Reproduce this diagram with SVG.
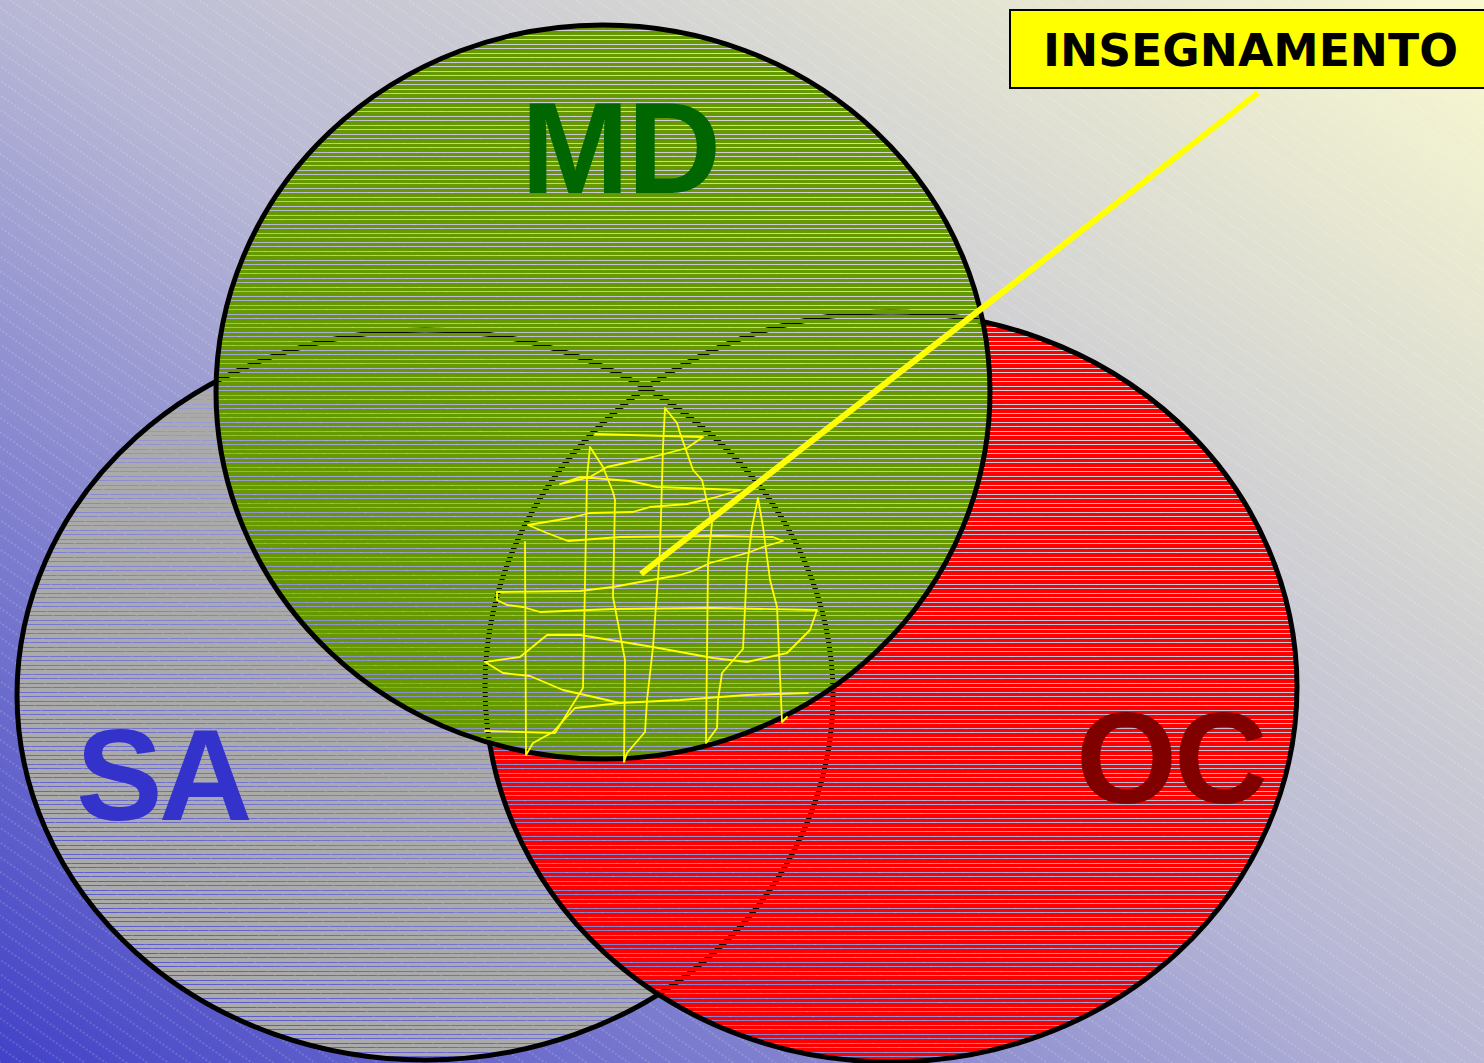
<svg xmlns="http://www.w3.org/2000/svg" width="1484" height="1063" viewBox="0 0 1484 1063">
<style>
.outline{stroke:#000;stroke-width:5}
.big{font-family:"Liberation Sans",Arial,sans-serif;font-weight:bold;font-size:130px}
.scr{fill:none;stroke:#ffff00;stroke-width:1.8;stroke-linejoin:round;stroke-linecap:round}
</style>
<defs>
<linearGradient id="bg" x1="0" y1="1" x2="1" y2="0">
<stop offset="0" stop-color="#4242c8"/>
<stop offset="0.5" stop-color="#b8b8d6"/>
<stop offset="1" stop-color="#fafad0"/>
</linearGradient>
<pattern id="diag" patternUnits="userSpaceOnUse" width="12" height="12" patternTransform="rotate(35)">
<line x1="0" y1="6" x2="12" y2="6" stroke="#ffffff" stroke-opacity="0.3" stroke-width="1" stroke-dasharray="2 2"/>
</pattern>
<pattern id="pGray" patternUnits="userSpaceOnUse" width="20" height="9">
<rect x="0" y="0" width="20" height="3" fill="#aaaaaa"/>
<rect x="0" y="4" width="20" height="4" fill="#aaaaaa"/>
</pattern>
<pattern id="pRed" patternUnits="userSpaceOnUse" width="20" height="9">
<rect x="0" y="0" width="20" height="3" fill="#ff0000"/>
<rect x="0" y="4" width="20" height="4" fill="#ff0000"/>
</pattern>
<pattern id="pGreen" patternUnits="userSpaceOnUse" width="20" height="9">
<rect x="0" y="0" width="20" height="3" fill="#669900"/>
<rect x="0" y="4" width="20" height="4" fill="#669900"/>
</pattern>
</defs>
<rect width="1484" height="1063" fill="url(#bg)"/>
<rect width="1484" height="1063" fill="url(#diag)"/>

<g id="SA">
<ellipse cx="425" cy="695" rx="408" ry="365" fill="url(#pGray)" class="outline"/>
<text class="big" x="76" y="820" fill="#3333cc" letter-spacing="-4">SA</text>
</g>
<g id="OC">
<ellipse cx="891" cy="687" rx="406" ry="375" fill="url(#pRed)" class="outline"/>
<text class="big" x="1076" y="803" fill="#800000" letter-spacing="-3">OC</text>
</g>
<g id="MD">
<ellipse cx="603" cy="392" rx="387" ry="367" fill="url(#pGreen)" class="outline"/>
<text class="big" x="620" y="193" fill="#006600" text-anchor="middle" letter-spacing="-2">MD</text>
</g>

<g id="scribble">
<polyline class="scr" points="595,434 703,437 687,448 653,457 607,467 590,477 560,484 580,477 630,481 657,487 740,490 713,498 687,504 650,507 633,512 590,513 570,518 528,525 547,533 568,541 620,537 720,536 773,537 783,541 763,547 747,553 710,563 693,571 680,575 640,582 613,587 580,591 497,592 497,600 507,605 523,607 540,612 613,609 713,608 817,610 810,630 787,653 747,662 713,658 653,647 580,635 547,635 520,657 485,662 503,673 530,676 563,690 620,703 680,700 747,695 808,693"/>
<polyline class="scr" points="525,542 526,755 533,743 553,732 575,708 620,703"/>
<polyline class="scr" points="485,731 555,733 583,688 587,477 590,447 603,467 613,492 615,500 613,597 625,660 624,762 627,753 645,732 647,700 653,647 660,550 663,447 665,408 677,423 680,433 693,470 702,480 712,523 708,563 706,743 717,728 718,700 722,673 743,649 747,567 752,527 758,498 763,527 770,580 777,607 782,722 787,717"/>
</g>

<g id="connectors">
<line x1="1258" y1="93" x2="641" y2="574" stroke="#ffff00" stroke-width="6"/>
</g>

<g id="label">
<rect x="1010" y="10" width="480" height="78" fill="#ffff00" stroke="#000" stroke-width="2"/>
<text x="1043" y="66" font-family="'DejaVu Sans',sans-serif" font-weight="bold" font-size="44" textLength="415" lengthAdjust="spacingAndGlyphs" fill="#000">INSEGNAMENTO</text>
</g>
</svg>
